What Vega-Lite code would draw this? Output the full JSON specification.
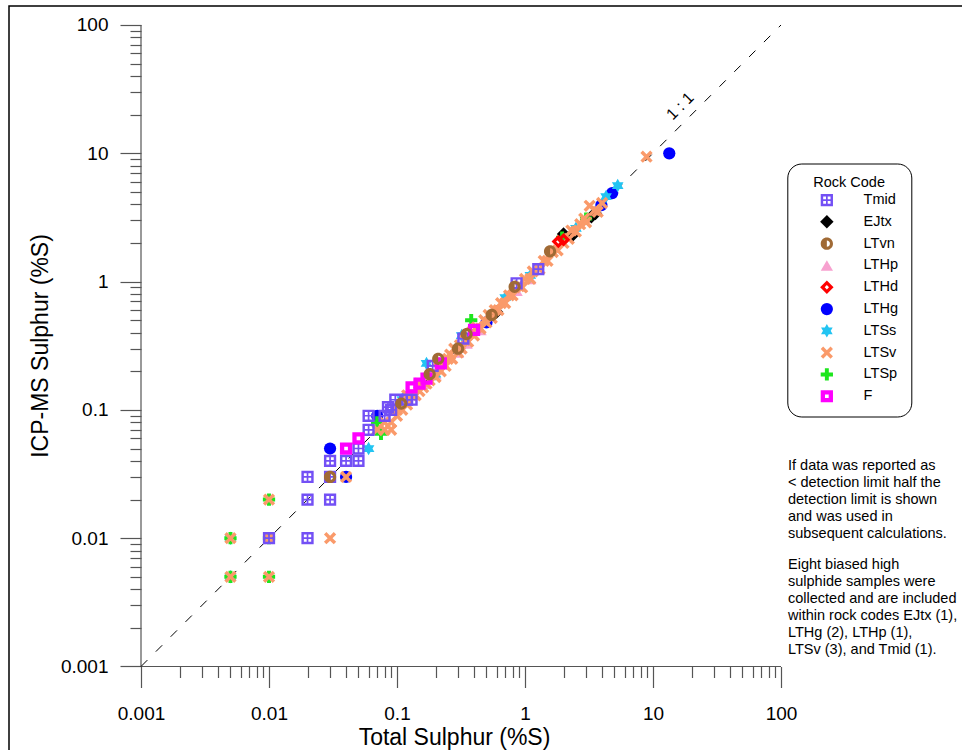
{
  "$schema": "https://vega.github.io/schema/vega-lite/v6.json",
  "width": 956,
  "height": 747,
  "autosize": {"type": "none"},
  "padding": {"left": 9, "top": 6, "right": -3, "bottom": -3},
  "background": "white",
  "config": {
    "view": {"stroke": "black", "strokeWidth": 1.5},
    "font": "Liberation Sans",
    "axis": {
      "grid": false, "domain": false,
      "labelFont": "Liberation Sans", "titleFont": "Liberation Sans",
      "labelColor": "black", "titleColor": "black",
      "tickColor": "#555", "tickWidth": 1.2,
      "labelFontSize": 19, "titleFontSize": 23, "titleFontWeight": "normal",
      "labelFlush": false, "labelOverlap": false, "labelBound": false
    }
  },
  "datasets": {
    "axislines": [
      {"x": 0.001, "y": 0.001, "x2": 100, "y2": 0.001},
      {"x": 0.001, "y": 0.001, "x2": 0.001, "y2": 100}
    ],
    "oneone": [
      {"x": 0.001, "y": 0.001, "x2": 100, "y2": 100}
    ],
    "labels": [
      {"lx": 19.5, "ly": 19.5}
    ],
    "notes": [
      {"nx": 113.4, "ny1": 0.034006, "ny2": 0.0057022}
    ],
    "samples": [
      {"code": "LTHg", "ts": 0.03, "icp": 0.05},
      {"code": "LTHg", "ts": 0.04, "icp": 0.03},
      {"code": "LTHg", "ts": 0.07, "icp": 0.09},
      {"code": "LTHg", "ts": 0.12, "icp": 0.125},
      {"code": "LTHg", "ts": 0.5, "icp": 0.48},
      {"code": "LTHg", "ts": 3.95, "icp": 3.95},
      {"code": "LTHg", "ts": 4.8, "icp": 4.9},
      {"code": "LTHg", "ts": 13.4, "icp": 10},
      {"code": "EJtx", "ts": 0.6, "icp": 0.58},
      {"code": "EJtx", "ts": 2.0, "icp": 2.35},
      {"code": "EJtx", "ts": 2.35, "icp": 2.3},
      {"code": "EJtx", "ts": 3.3, "icp": 3.2},
      {"code": "EJtx", "ts": 3.55, "icp": 3.4},
      {"code": "LTHp", "ts": 0.16, "icp": 0.16},
      {"code": "LTHp", "ts": 0.2, "icp": 0.19},
      {"code": "LTHp", "ts": 0.3, "icp": 0.28},
      {"code": "LTHp", "ts": 0.35, "icp": 0.33},
      {"code": "LTHp", "ts": 0.45, "icp": 0.42},
      {"code": "LTHp", "ts": 0.86, "icp": 0.85},
      {"code": "LTHp", "ts": 1.1, "icp": 1.05},
      {"code": "LTSs", "ts": 0.005, "icp": 0.005},
      {"code": "LTSs", "ts": 0.005, "icp": 0.01},
      {"code": "LTSs", "ts": 0.06, "icp": 0.05},
      {"code": "LTSs", "ts": 0.11, "icp": 0.12},
      {"code": "LTSs", "ts": 0.17, "icp": 0.23},
      {"code": "LTSs", "ts": 0.2, "icp": 0.19},
      {"code": "LTSs", "ts": 0.32, "icp": 0.38},
      {"code": "LTSs", "ts": 0.7, "icp": 0.75},
      {"code": "LTSs", "ts": 1.1, "icp": 1.12},
      {"code": "LTSs", "ts": 2.5, "icp": 2.6},
      {"code": "LTSs", "ts": 4.3, "icp": 4.6},
      {"code": "LTSs", "ts": 5.3, "icp": 5.6},
      {"code": "LTSp", "ts": 0.005, "icp": 0.005},
      {"code": "LTSp", "ts": 0.005, "icp": 0.01},
      {"code": "LTSp", "ts": 0.01, "icp": 0.005},
      {"code": "LTSp", "ts": 0.01, "icp": 0.01},
      {"code": "LTSp", "ts": 0.01, "icp": 0.02},
      {"code": "LTSp", "ts": 0.07, "icp": 0.08},
      {"code": "LTSp", "ts": 0.075, "icp": 0.065},
      {"code": "LTSp", "ts": 0.1, "icp": 0.1},
      {"code": "LTSp", "ts": 0.38, "icp": 0.5},
      {"code": "LTSp", "ts": 1.95, "icp": 2.2},
      {"code": "LTSp", "ts": 3.0, "icp": 3.1},
      {"code": "LTSv", "ts": 0.005, "icp": 0.005},
      {"code": "LTSv", "ts": 0.005, "icp": 0.01},
      {"code": "LTSv", "ts": 0.01, "icp": 0.005},
      {"code": "LTSv", "ts": 0.01, "icp": 0.01},
      {"code": "LTSv", "ts": 0.01, "icp": 0.02},
      {"code": "LTSv", "ts": 0.03, "icp": 0.01},
      {"code": "LTSv", "ts": 0.04, "icp": 0.03},
      {"code": "LTSv", "ts": 0.07, "icp": 0.07},
      {"code": "LTSv", "ts": 0.08, "icp": 0.07},
      {"code": "LTSv", "ts": 0.09, "icp": 0.07},
      {"code": "LTSv", "ts": 0.08, "icp": 0.08},
      {"code": "LTSv", "ts": 0.09, "icp": 0.08},
      {"code": "LTSv", "ts": 0.1, "icp": 0.09},
      {"code": "LTSv", "ts": 0.1, "icp": 0.1},
      {"code": "LTSv", "ts": 0.11, "icp": 0.1},
      {"code": "LTSv", "ts": 0.12, "icp": 0.11},
      {"code": "LTSv", "ts": 0.12, "icp": 0.13},
      {"code": "LTSv", "ts": 0.13, "icp": 0.13},
      {"code": "LTSv", "ts": 0.14, "icp": 0.13},
      {"code": "LTSv", "ts": 0.15, "icp": 0.14},
      {"code": "LTSv", "ts": 0.15, "icp": 0.16},
      {"code": "LTSv", "ts": 0.16, "icp": 0.15},
      {"code": "LTSv", "ts": 0.17, "icp": 0.16},
      {"code": "LTSv", "ts": 0.18, "icp": 0.17},
      {"code": "LTSv", "ts": 0.19, "icp": 0.19},
      {"code": "LTSv", "ts": 0.2, "icp": 0.18},
      {"code": "LTSv", "ts": 0.21, "icp": 0.21},
      {"code": "LTSv", "ts": 0.22, "icp": 0.2},
      {"code": "LTSv", "ts": 0.23, "icp": 0.23},
      {"code": "LTSv", "ts": 0.24, "icp": 0.22},
      {"code": "LTSv", "ts": 0.25, "icp": 0.25},
      {"code": "LTSv", "ts": 0.26, "icp": 0.27},
      {"code": "LTSv", "ts": 0.27, "icp": 0.25},
      {"code": "LTSv", "ts": 0.28, "icp": 0.3},
      {"code": "LTSv", "ts": 0.3, "icp": 0.28},
      {"code": "LTSv", "ts": 0.31, "icp": 0.32},
      {"code": "LTSv", "ts": 0.32, "icp": 0.3},
      {"code": "LTSv", "ts": 0.34, "icp": 0.35},
      {"code": "LTSv", "ts": 0.36, "icp": 0.34},
      {"code": "LTSv", "ts": 0.38, "icp": 0.4},
      {"code": "LTSv", "ts": 0.4, "icp": 0.38},
      {"code": "LTSv", "ts": 0.42, "icp": 0.44},
      {"code": "LTSv", "ts": 0.45, "icp": 0.43},
      {"code": "LTSv", "ts": 0.48, "icp": 0.5},
      {"code": "LTSv", "ts": 0.5, "icp": 0.48},
      {"code": "LTSv", "ts": 0.52, "icp": 0.55},
      {"code": "LTSv", "ts": 0.55, "icp": 0.52},
      {"code": "LTSv", "ts": 0.58, "icp": 0.6},
      {"code": "LTSv", "ts": 0.62, "icp": 0.6},
      {"code": "LTSv", "ts": 0.65, "icp": 0.68},
      {"code": "LTSv", "ts": 0.7, "icp": 0.68},
      {"code": "LTSv", "ts": 0.75, "icp": 0.78},
      {"code": "LTSv", "ts": 0.8, "icp": 0.78},
      {"code": "LTSv", "ts": 0.9, "icp": 0.92},
      {"code": "LTSv", "ts": 0.95, "icp": 0.9},
      {"code": "LTSv", "ts": 1.0, "icp": 1.05},
      {"code": "LTSv", "ts": 1.1, "icp": 1.05},
      {"code": "LTSv", "ts": 1.15, "icp": 1.2},
      {"code": "LTSv", "ts": 1.3, "icp": 1.25},
      {"code": "LTSv", "ts": 1.4, "icp": 1.45},
      {"code": "LTSv", "ts": 1.5, "icp": 1.45},
      {"code": "LTSv", "ts": 1.65, "icp": 1.7},
      {"code": "LTSv", "ts": 1.8, "icp": 1.75},
      {"code": "LTSv", "ts": 2.0, "icp": 2.0},
      {"code": "LTSv", "ts": 2.2, "icp": 2.15},
      {"code": "LTSv", "ts": 2.3, "icp": 2.5},
      {"code": "LTSv", "ts": 2.5, "icp": 2.45},
      {"code": "LTSv", "ts": 2.7, "icp": 2.8},
      {"code": "LTSv", "ts": 2.9, "icp": 3.1},
      {"code": "LTSv", "ts": 3.0, "icp": 2.9},
      {"code": "LTSv", "ts": 3.2, "icp": 3.9},
      {"code": "LTSv", "ts": 3.5, "icp": 3.6},
      {"code": "LTSv", "ts": 3.7, "icp": 3.5},
      {"code": "LTSv", "ts": 4.0, "icp": 4.1},
      {"code": "LTSv", "ts": 8.9, "icp": 9.4},
      {"code": "LTHd", "ts": 1.82, "icp": 2.05},
      {"code": "LTHd", "ts": 2.0, "icp": 2.12},
      {"code": "Tmid", "ts": 0.01, "icp": 0.01},
      {"code": "Tmid", "ts": 0.02, "icp": 0.01},
      {"code": "Tmid", "ts": 0.02, "icp": 0.02},
      {"code": "Tmid", "ts": 0.02, "icp": 0.03},
      {"code": "Tmid", "ts": 0.03, "icp": 0.02},
      {"code": "Tmid", "ts": 0.03, "icp": 0.03},
      {"code": "Tmid", "ts": 0.03, "icp": 0.04},
      {"code": "Tmid", "ts": 0.04, "icp": 0.04},
      {"code": "Tmid", "ts": 0.05, "icp": 0.04},
      {"code": "Tmid", "ts": 0.05, "icp": 0.05},
      {"code": "Tmid", "ts": 0.06, "icp": 0.07},
      {"code": "Tmid", "ts": 0.06, "icp": 0.09},
      {"code": "Tmid", "ts": 0.08, "icp": 0.09},
      {"code": "Tmid", "ts": 0.085, "icp": 0.105},
      {"code": "Tmid", "ts": 0.09, "icp": 0.1},
      {"code": "Tmid", "ts": 0.097, "icp": 0.12},
      {"code": "Tmid", "ts": 0.12, "icp": 0.12},
      {"code": "Tmid", "ts": 0.13, "icp": 0.12},
      {"code": "Tmid", "ts": 0.19, "icp": 0.22},
      {"code": "Tmid", "ts": 0.33, "icp": 0.36},
      {"code": "Tmid", "ts": 0.86, "icp": 0.97},
      {"code": "Tmid", "ts": 1.27, "icp": 1.25},
      {"code": "F", "ts": 0.04, "icp": 0.05},
      {"code": "F", "ts": 0.05, "icp": 0.06},
      {"code": "F", "ts": 0.13, "icp": 0.15},
      {"code": "F", "ts": 0.15, "icp": 0.16},
      {"code": "F", "ts": 0.17, "icp": 0.175},
      {"code": "F", "ts": 0.22, "icp": 0.23},
      {"code": "F", "ts": 0.4, "icp": 0.42},
      {"code": "LTvn", "ts": 0.03, "icp": 0.03},
      {"code": "LTvn", "ts": 0.108, "icp": 0.112},
      {"code": "LTvn", "ts": 0.18, "icp": 0.19},
      {"code": "LTvn", "ts": 0.21, "icp": 0.25},
      {"code": "LTvn", "ts": 0.3, "icp": 0.3},
      {"code": "LTvn", "ts": 0.35, "icp": 0.39},
      {"code": "LTvn", "ts": 0.55, "icp": 0.55},
      {"code": "LTvn", "ts": 0.83, "icp": 0.91},
      {"code": "LTvn", "ts": 1.57, "icp": 1.72}
    ]
  },
  "layer": [
    {
      "data": {"name": "axislines"},
      "mark": {"type": "rule", "color": "#555", "strokeWidth": 1.2},
      "encoding": {
        "x": {"field": "x", "type": "quantitative",
          "scale": {"type": "log", "domain": [0.000093057, 2738.4], "nice": false},
          "axis": {"orient": "bottom", "offset": -86.5, "tickSize": 11, "labels": false, "title": null,
            "values": [0.002,0.003,0.004,0.005,0.006,0.007,0.008,0.009,0.02,0.03,0.04,0.05,0.06,0.07,0.08,0.09,0.2,0.3,0.4,0.5,0.6,0.7,0.8,0.9,2,3,4,5,6,7,8,9,20,30,40,50,60,70,80,90]}},
        "x2": {"field": "x2"},
        "y": {"field": "y", "type": "quantitative",
          "scale": {"type": "log", "domain": [0.00021171, 140.63], "nice": false},
          "axis": {"orient": "left", "offset": -132, "tickSize": 11, "labels": false, "title": null,
            "values": [0.002,0.003,0.004,0.005,0.006,0.007,0.008,0.009,0.02,0.03,0.04,0.05,0.06,0.07,0.08,0.09,0.2,0.3,0.4,0.5,0.6,0.7,0.8,0.9,2,3,4,5,6,7,8,9,20,30,40,50,60,70,80,90]}},
        "y2": {"field": "y2"}
      }
    },
    {
      "data": {"name": "oneone"},
      "mark": {"type": "rule", "color": "black", "strokeWidth": 1, "strokeDash": [9, 12]},
      "encoding": {
        "x": {"field": "x", "type": "quantitative", "scale": {"type": "log", "domain": [0.000093057, 2738.4], "nice": false}, "axis": null},
        "x2": {"field": "x2"},
        "y": {"field": "y", "type": "quantitative", "scale": {"type": "log", "domain": [0.00021171, 140.63], "nice": false}, "axis": null},
        "y2": {"field": "y2"}
      }
    },
    {
      "data": {"name": "samples"},
      "mark": {"type": "point", "filled": true, "size": 150, "opacity": 1},
      "encoding": {
        "x": {"field": "ts", "type": "quantitative",
          "scale": {"type": "log", "domain": [0.000093057, 2738.4], "nice": false},
          "axis": {"orient": "bottom", "offset": -86.5, "tickSize": 21, "labelPadding": 17,
            "values": [0.001, 0.01, 0.1, 1, 10, 100], "labelExpr": "'' + datum.value",
            "title": "Total Sulphur (%S)", "titleX": 445, "titleY": 78, "titleAlign": "center", "titleBaseline": "alphabetic"}},
        "y": {"field": "icp", "type": "quantitative",
          "scale": {"type": "log", "domain": [0.00021171, 140.63], "nice": false},
          "axis": {"orient": "left", "offset": -132, "tickSize": 21, "labelPadding": 12,
            "values": [0.001, 0.01, 0.1, 1, 10, 100], "labelExpr": "'' + datum.value",
            "title": "ICP-MS Sulphur (%S)", "titleX": -94, "titleY": 339.5, "titleAngle": -90, "titleAlign": "center", "titleBaseline": "alphabetic"}},
        "color": {"field": "code", "type": "nominal",
          "scale": {"domain": ["Tmid","EJtx","LTvn","LTHp","LTHd","LTHg","LTSs","LTSv","LTSp","F"],
                    "range": ["#7350F5","#000000","#A06A35","#F7A1CF","#FF0000","#0000FF","#22C4F2","#FA9A6A","#1EE61E","#FF00FF"]},
          "legend": {"orient": "none", "legendX": 778.3, "legendY": 157.5, "title": "Rock Code",
            "titleFont": "Liberation Sans", "titleFontSize": 14.5, "titleFontWeight": "normal", "titleColor": "black",
            "titleAnchor": "middle", "titlePadding": 2,
            "labelFont": "Liberation Sans", "labelFontSize": 14.5, "labelColor": "black", "labelOffset": 29.5,
            "symbolOffset": 19.5, "symbolSize": 150, "rowPadding": 6.8, "padding": 12.8,
            "strokeColor": "black", "cornerRadius": 14, "fillColor": "white"}},
        "shape": {"field": "code", "type": "nominal",
          "scale": {"domain": ["Tmid","EJtx","LTvn","LTHp","LTHd","LTHg","LTSs","LTSv","LTSp","F"],
                    "range": [
                      "M-1,-1L1,-1L1,1L-1,1Z M-0.6,-0.6L-0.6,-0.14L-0.14,-0.14L-0.14,-0.6Z M0.14,-0.6L0.14,-0.14L0.6,-0.14L0.6,-0.6Z M-0.6,0.14L-0.6,0.6L-0.14,0.6L-0.14,0.14Z M0.14,0.14L0.14,0.6L0.6,0.6L0.6,0.14Z",
                      "M0,-1.1L1.1,0L0,1.1L-1.1,0Z",
                      "M0,-1A1,1,0,1,1,0,1A1,1,0,1,1,0,-1Z M0,-0.5L0,0.5A0.5,0.5,0,0,0,0,-0.5Z",
                      "triangle-up",
                      "M0,-1.1L1.1,0L0,1.1L-1.1,0Z M0,-0.35L-0.35,0L0,0.35L0.35,0Z",
                      "circle",
                      "M0,-1.1L0.95,0.55L-0.95,0.55Z M0,1.1L-0.95,-0.55L0.95,-0.55Z",
                      "M-1,-0.6L-0.6,-1L0,-0.4L0.6,-1L1,-0.6L0.4,0L1,0.6L0.6,1L0,0.4L-0.6,1L-1,0.6L-0.4,0Z",
                      "M-0.32,-1L0.32,-1L0.32,-0.32L1,-0.32L1,0.32L0.32,0.32L0.32,1L-0.32,1L-0.32,0.32L-1,0.32L-1,-0.32L-0.32,-0.32Z",
                      "M-1,-1L1,-1L1,1L-1,1Z M-0.3,-0.3L-0.3,0.3L0.3,0.3L0.3,-0.3Z"
                    ]},
          "legend": {"orient": "none", "legendX": 778.3, "legendY": 157.5, "title": "Rock Code",
            "titleFont": "Liberation Sans", "titleFontSize": 14.5, "titleFontWeight": "normal", "titleColor": "black",
            "titleAnchor": "middle", "titlePadding": 2,
            "labelFont": "Liberation Sans", "labelFontSize": 14.5, "labelColor": "black", "labelOffset": 29.5,
            "symbolOffset": 19.5, "symbolSize": 150, "rowPadding": 6.8, "padding": 12.8,
            "strokeColor": "black", "cornerRadius": 14, "fillColor": "white"}}
      }
    },
    {
      "data": {"name": "labels"},
      "mark": {"type": "text", "text": "1 : 1", "angle": 315, "dy": -14, "fontSize": 16, "font": "Liberation Sans", "color": "black", "align": "center", "baseline": "middle"},
      "encoding": {
        "x": {"field": "lx", "type": "quantitative", "scale": {"type": "log", "domain": [0.000093057, 2738.4], "nice": false}, "axis": null},
        "y": {"field": "ly", "type": "quantitative", "scale": {"type": "log", "domain": [0.00021171, 140.63], "nice": false}, "axis": null}
      }
    },
    {
      "data": {"name": "notes"},
      "mark": {"type": "text", "text": ["If data was reported as", "< detection limit half the", "detection limit is shown", "and was used in", "subsequent calculations."],
        "lineHeight": 17, "fontSize": 14.5, "font": "Liberation Sans", "color": "black", "align": "left", "baseline": "alphabetic"},
      "encoding": {
        "x": {"field": "nx", "type": "quantitative", "scale": {"type": "log", "domain": [0.000093057, 2738.4], "nice": false}, "axis": null},
        "y": {"field": "ny1", "type": "quantitative", "scale": {"type": "log", "domain": [0.00021171, 140.63], "nice": false}, "axis": null}
      }
    },
    {
      "data": {"name": "notes"},
      "mark": {"type": "text", "text": ["Eight biased high", "sulphide samples were", "collected and are included", "within rock codes EJtx (1),", "LTHg (2), LTHp (1),", "LTSv (3), and Tmid (1)."],
        "lineHeight": 17, "fontSize": 14.5, "font": "Liberation Sans", "color": "black", "align": "left", "baseline": "alphabetic"},
      "encoding": {
        "x": {"field": "nx", "type": "quantitative", "scale": {"type": "log", "domain": [0.000093057, 2738.4], "nice": false}, "axis": null},
        "y": {"field": "ny2", "type": "quantitative", "scale": {"type": "log", "domain": [0.00021171, 140.63], "nice": false}, "axis": null}
      }
    }
  ],
  "resolve": {"axis": {"x": "independent", "y": "independent"}}
}
